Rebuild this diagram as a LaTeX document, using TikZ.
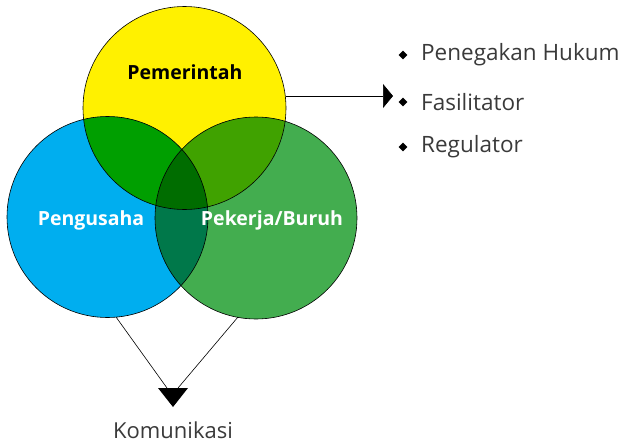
\documentclass[tikz,border=0pt]{standalone}
\usepackage{fontspec}
\setmainfont{Open Sans}
\usetikzlibrary{arrows.meta,shapes.geometric}
\definecolor{cy}{HTML}{FFF100}
\definecolor{cb}{HTML}{00AEEF}
\definecolor{cg}{HTML}{43AD4F}
\definecolor{cyb}{HTML}{009F00}
\definecolor{cyg}{HTML}{40A200}
\definecolor{cbg}{HTML}{00784A}
\definecolor{cybg}{HTML}{006D00}
\definecolor{txt}{HTML}{3A3A3A}
\tikzset{
  ring/.style={draw=black, line width=0.6pt},
  lbl/.style={font=\bfseries\fontsize{19.5}{23}\selectfont},
  item/.style={anchor=west, text=txt, font=\fontsize{22.5}{26}\selectfont, inner sep=0pt},
  dot/.style={diamond, fill=black, inner sep=0pt, minimum size=9pt},
  conn/.style={draw=black, line width=0.6pt}
}
\begin{document}
\begin{tikzpicture}[x=1pt,y=-1pt]
\useasboundingbox (0,0) rectangle (622,445);
% centres
\coordinate (cY) at (184.5,108);
\coordinate (cB) at (107.5,217);
\coordinate (cG) at (256,218);
\def\rY{101.5}\def\rB{100.5}\def\rG{101}
% fills
\fill[cy] (cY) circle (\rY);
\fill[cb] (cB) circle (\rB);
\fill[cg] (cG) circle (\rG);
\begin{scope}\clip (cY) circle (\rY); \fill[cyb] (cB) circle (\rB); \fill[cyg] (cG) circle (\rG); \end{scope}
\begin{scope}\clip (cB) circle (\rB); \fill[cbg] (cG) circle (\rG); \end{scope}
\begin{scope}\clip (cY) circle (\rY); \clip (cB) circle (\rB); \fill[cybg] (cG) circle (\rG); \end{scope}
% outlines as named nodes
\node[ring, circle, minimum size=203pt, inner sep=0pt] (pem) at (cY) {};
\node[ring, circle, minimum size=201pt, inner sep=0pt] (png) at (cB) {};
\node[ring, circle, minimum size=202pt, inner sep=0pt] (pek) at (cG) {};
% labels
\node[lbl, text=black] (lpem) at (185,72) {Pemerintah};
\node[lbl, text=white] (lpng) at (91,220) {Pengusaha};
\node[lbl, text=white] (lpek) at (272,220) {Pekerja/Buruh};
% right list
\node[dot] (d1) at (403,55) {};
\node[dot] (d2) at (403,102) {};
\node[dot] (d3) at (403,147) {};
\node[item] (t1) at (421,55) {Penegakan Hukum};
\node[item] (t2) at (421,102) {Fasilitator};
\node[item] (t3) at (421,147) {Regulator};
\coordinate (aS) at (286,96);
\coordinate (aE) at (393,96);
\draw[conn, -{Triangle[length=10pt,width=24pt]}] (aS) -- (aE);
% bottom
\coordinate (bl) at (116,317);
\coordinate (br) at (238,317);
\coordinate (kl) at (167,388);
\coordinate (kr) at (178,388);
\draw[conn] (bl) -- (kl);
\draw[conn] (br) -- (kr);
\fill[black] (158,388) -- (188,388) -- (173,407) -- cycle;
\node[text=txt, font=\fontsize{22}{26}\selectfont, inner sep=0pt, anchor=base] (kom) at (173,438) {Komunikasi};
\end{tikzpicture}
\end{document}
